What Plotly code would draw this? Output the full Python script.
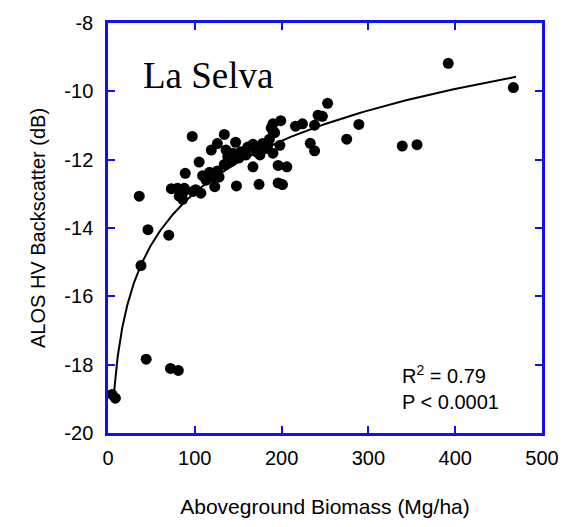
import numpy as np
import plotly.graph_objects as go

# Plot-level aboveground biomass (Mg/ha) and ALOS PALSAR HV backscatter (dB)
biomass = [
    392, 467, 253, 247, 242, 289, 238, 224, 216, 199, 190, 190, 275, 233, 238,
    339, 356, 97, 134, 126, 119, 105, 89, 73, 36, 46, 70, 38, 44, 72, 81,
    4.6, 8.5, 148, 174, 196, 201, 196, 206, 167, 147, 167, 178, 198, 190, 82,
    88, 98, 107, 123, 113, 117, 126, 128, 134, 138, 136, 144, 153, 159, 151,
    161, 171, 182, 186, 192, 188, 184, 175, 142, 121, 109, 101, 86, 80, 86,
]
backscatter = [
    -9.18, -9.89, -10.35, -10.73, -10.70, -10.97, -10.99, -10.95, -11.02, -10.86,
    -10.95, -11.16, -11.40, -11.52, -11.74, -11.60, -11.56, -11.32, -11.26, -11.53,
    -11.72, -12.07, -12.40, -12.85, -13.07, -14.05, -14.21, -15.10, -17.84, -18.11,
    -18.17, -18.87, -18.98, -12.77, -12.72, -12.68, -12.73, -12.17, -12.21, -12.21,
    -11.49, -11.55, -11.53, -11.58, -11.81, -13.07, -12.84, -12.93, -12.98, -12.79,
    -12.60, -12.37, -12.33, -12.51, -12.14, -11.91, -11.72, -11.81, -11.77, -11.86,
    -11.95, -11.63, -11.77, -11.67, -11.40, -11.21, -11.07, -11.58, -11.86, -12.05,
    -12.51, -12.47, -12.88, -12.98, -12.84, -13.16,
]

# Logarithmic regression curve: y = a + b * ln(biomass)
fit_intercept = -23.05
fit_slope = 2.19
fit_x = np.geomspace(7, 470, 200)
fit_y = fit_intercept + fit_slope * np.log(fit_x)

x_ticks = [0, 100, 200, 300, 400, 500]
x_tick_labels = ["0", "100", "200", "300", "400", "500"]
y_ticks = [-20, -18, -16, -14, -12, -10, -8]
y_tick_labels = ["-20", "-18", "-16", "-14", "-12", "-10", "-8"]

BLUE = "#1010f0"

fig = go.Figure()
fig.add_trace(go.Scatter(
    x=fit_x, y=fit_y, mode="lines",
    line=dict(color="black", width=2), hoverinfo="skip",
))
fig.add_trace(go.Scatter(
    x=biomass, y=backscatter, mode="markers",
    marker=dict(color="black", size=11, line=dict(width=0)),
))

axis_common = dict(
    showgrid=False, zeroline=False,
    showline=True, linecolor=BLUE, linewidth=2.5, mirror="ticks",
    ticks="inside", ticklen=7, tickwidth=1.5, tickcolor=BLUE,
    tickfont=dict(family="Liberation Sans, Arial", size=20, color="black"),
)

fig.update_layout(
    width=578, height=527,
    margin=dict(l=108, r=36, t=17, b=80),
    paper_bgcolor="white", plot_bgcolor="white",
    showlegend=False,
    xaxis=dict(
        range=[0, 500], tickvals=x_ticks, ticktext=x_tick_labels,
        title=dict(text="Aboveground Biomass (Mg/ha)", standoff=32,
                   font=dict(family="Liberation Sans, Arial", size=21, color="black")),
        ticklabelstandoff=5,
        **axis_common,
    ),
    yaxis=dict(
        range=[-20, -8], tickvals=y_ticks, ticktext=y_tick_labels,
        title=dict(text="ALOS HV Backscatter (dB)", standoff=14,
                   font=dict(family="Liberation Sans, Arial", size=20, color="black")),
        ticklabelstandoff=8,
        **axis_common,
    ),
    annotations=[
        dict(
            x=38, y=-9.55, xref="x", yref="y", xanchor="left", yanchor="middle",
            text="La Selva", showarrow=False,
            font=dict(family="Liberation Serif, Times New Roman", size=37, color="black"),
        ),
        dict(
            x=336, y=-17.85, xref="x", yref="y", xanchor="left", yanchor="top",
            align="left", showarrow=False,
            text="R<sup>2</sup> = 0.79<br>P &lt; 0.0001",
            font=dict(family="Liberation Sans, Arial", size=20, color="black"),
        ),
    ],
)

fig.write_html("out.html")
